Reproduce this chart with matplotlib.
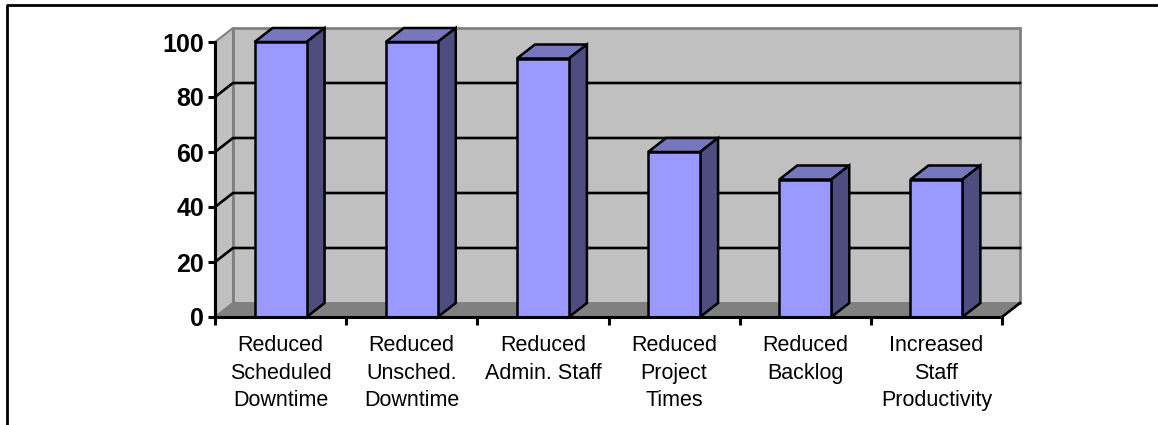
import matplotlib.pyplot as plt
from matplotlib.patches import Polygon
from matplotlib.lines import Line2D

# chart data
categories = ["Reduced\nScheduled\nDowntime", "Reduced\nUnsched.\nDowntime",
              "Reduced\nAdmin. Staff", "Reduced\nProject\nTimes",
              "Reduced\nBacklog", "Increased\nStaff\nProductivity"]
values = [100, 100, 94, 60, 50, 50]
yticks = [0, 20, 40, 60, 80, 100]

W, H = 1158, 425
fig = plt.figure(figsize=(W / 100, H / 100), dpi=100)

# front plane of the 3d plot, in pixels
x0, x1, ytop, ybot = 215, 1002, 42, 317
ax = fig.add_axes([x0 / W, (H - ybot) / H, (x1 - x0) / W, (ybot - ytop) / H])
n = len(values)
ax.set_xlim(0, n)
ax.set_ylim(0, 100)

# depth offset of the 3d effect in data units
dx = 18 / (x1 - x0) * n
dy = 14 / (ybot - ytop) * 100

wall = "#c0c0c0"
edge = "#808080"

def poly(pts, fc, ec="black", lw=1.8, z=1):
    ax.add_patch(Polygon(pts, closed=True, facecolor=fc, edgecolor=ec,
                         linewidth=lw, zorder=z, clip_on=False, joinstyle="miter"))

# back wall, side wall and floor
poly([(dx, dy), (n + dx, dy), (n + dx, 100 + dy), (dx, 100 + dy)], wall, edge, 2, 1)
poly([(0, 0), (dx, dy), (dx, 100 + dy), (0, 100)], wall, edge, 1.5, 1)
poly([(0, 0), (n, 0), (n + dx, dy), (dx, dy)], edge, edge, 1, 1)

# gridlines on the walls
for t in yticks[1:-1]:
    ax.plot([0, dx, n + dx], [t, t + dy, t + dy], color="black", lw=1.9,
            zorder=2, clip_on=False)
ax.plot([n, n + dx], [0, dy], color="black", lw=1.9, zorder=2, clip_on=False)

# bars
bw = 52 / (x1 - x0) * n
front = "#9999ff"
top = "#7777c0"
side = "#4d4d80"
for i, v in enumerate(values):
    a = i + 0.5 - bw / 2
    b = i + 0.5 + bw / 2
    poly([(a, v), (b, v), (b + dx, v + dy), (a + dx, v + dy)], top, z=3)
    poly([(b, 0), (b + dx, dy), (b + dx, v + dy), (b, v)], side, z=3)
    poly([(a, 0), (b, 0), (b, v), (a, v)], front, z=4)

# axes
for s in ["top", "right"]:
    ax.spines[s].set_visible(False)
for s in ["left", "bottom"]:
    ax.spines[s].set_linewidth(2.2)
    ax.spines[s].set_zorder(5)
ax.patch.set_visible(False)

ax.set_yticks(yticks)
ax.set_yticklabels([str(t) for t in yticks], fontsize=18, fontweight="bold",
                   family="Liberation Sans")
ax.tick_params(axis="y", direction="out", length=5, width=2.2, pad=3)

ax.set_xticks(range(n + 1))
ax.set_xticklabels([])
ax.tick_params(axis="x", direction="out", length=6, width=2.2)
for i, c in enumerate(categories):
    ax.text(i + 0.5, -6.5, c, ha="center", va="top", fontsize=15.5,
            family="Liberation Sans", linespacing=1.42)

# outer frame of the figure box
fig.add_artist(Line2D([7 / W, 7 / W, 1], [0, 1 - 5 / H, 1 - 5 / H],
                      color="black", lw=2, transform=fig.transFigure))

fig.savefig("out.png", dpi=100)
